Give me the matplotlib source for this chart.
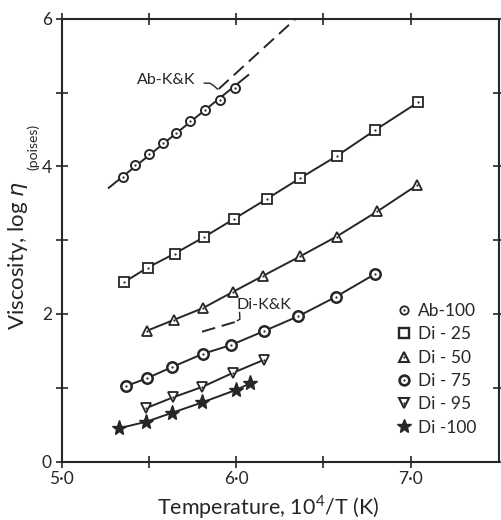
import matplotlib
matplotlib.use("Agg")
import matplotlib.pyplot as plt
from matplotlib.lines import Line2D

plt.rcParams['font.family'] = ['Lato', 'DejaVu Sans']
INK = '#262626'

# ---- data ----
ab100_x = [5.353, 5.423, 5.500, 5.580, 5.656, 5.738, 5.820, 5.909, 5.995]
ab100_y = [3.86, 4.02, 4.17, 4.32, 4.45, 4.62, 4.77, 4.90, 5.07]
ab100_line_x = [5.27, 6.07]
ab100_line_y = [3.71, 5.24]

di25_x = [5.357, 5.494, 5.649, 5.814, 5.989, 6.176, 6.366, 6.576, 6.795, 7.043]
di25_y = [2.43, 2.63, 2.82, 3.04, 3.29, 3.56, 3.84, 4.14, 4.49, 4.87]

di50_x = [5.487, 5.643, 5.810, 5.982, 6.157, 6.366, 6.576, 6.809, 7.039]
di50_y = [1.77, 1.92, 2.08, 2.30, 2.52, 2.78, 3.05, 3.39, 3.75]

di75_x = [5.367, 5.490, 5.633, 5.810, 5.972, 6.162, 6.357, 6.570, 6.795]
di75_y = [1.02, 1.13, 1.28, 1.46, 1.58, 1.77, 1.97, 2.23, 2.54]

di95_x = [5.481, 5.639, 5.805, 5.980, 6.161]
di95_y = [0.72, 0.87, 1.01, 1.20, 1.38]

di100_x = [5.329, 5.486, 5.633, 5.805, 5.999, 6.081]
di100_y = [0.45, 0.54, 0.66, 0.80, 0.97, 1.06]

abkk_x = [5.90, 6.34]
abkk_y = [5.05, 6.0]
dikk_x = [5.805, 6.014]
dikk_y = [1.76, 1.905]

legend_labels = ['Ab-100', 'Di - 25', 'Di - 50', 'Di - 75', 'Di - 95', 'Di -100']
xtick_vals = [5.0, 5.5, 6.0, 6.5, 7.0]
xtick_labels = ['5·0', '', '6·0', '', '7·0']
ytick_vals = [0, 1, 2, 3, 4, 5, 6]
ytick_labels = ['0', '', '2', '', '4', '', '6']

fig = plt.figure(figsize=(5.01, 5.20), dpi=100)
ax = fig.add_axes([0.123, 0.1125, 0.874, 0.851])

lw = 1.4
def dotted(x, y, marker, ms, mew=1.3, line=True):
    if line:
        ax.plot(x, y, '-', color=INK, lw=lw, zorder=2)
    h1, = ax.plot(x, y, linestyle='none', marker=marker, ms=ms, mfc='white',
                  mec=INK, mew=mew, zorder=3)
    h2, = ax.plot(x, y, linestyle='none', marker='o', ms=1.6, mfc=INK,
                  mec=INK, mew=0, zorder=4)
    return (h1, h2)

ax.plot(ab100_line_x, ab100_line_y, '-', color=INK, lw=lw, zorder=2)
h_ab = dotted(ab100_x, ab100_y, 'o', 6.5, mew=1.4, line=False)
h_25 = dotted(di25_x, di25_y, 's', 6.8)
h_50 = dotted(di50_x, di50_y, '^', 7.5)
h_75 = dotted(di75_x, di75_y, 'o', 7.5, mew=1.8)
h_95 = dotted(di95_x, di95_y, 'v', 7.5)
ax.plot(di100_x, di100_y, '-', color=INK, lw=lw, zorder=2)
h_100, = ax.plot(di100_x, di100_y, linestyle='none', marker='*', ms=11,
                 mfc=INK, mec=INK, zorder=3)

ax.plot(abkk_x, abkk_y, color=INK, lw=lw, dashes=(7, 3.5), zorder=2)
ax.plot(dikk_x, dikk_y, color=INK, lw=lw, dashes=(7, 3.5), zorder=2)

ax.text(5.43, 5.17, 'Ab-K&K', fontsize=11.5, color=INK, ha='left', va='center')
ax.plot([5.818, 5.85, 5.875, 5.893], [5.13, 5.13, 5.09, 5.05], color=INK, lw=1.0)
ax.text(6.0, 2.12, 'Di-K&K', fontsize=11.5, color=INK, ha='left', va='center')
ax.plot([6.02, 6.022, 6.008], [2.02, 1.93, 1.91], color=INK, lw=1.0)

# legend (markers only)
lh_ab = (Line2D([], [], ls='none', marker='o', ms=6, mfc='white', mec=INK, mew=1.3),
         Line2D([], [], ls='none', marker='o', ms=1.6, mfc=INK, mec=INK, mew=0))
lh_25 = Line2D([], [], ls='none', marker='s', ms=6.5, mfc='white', mec=INK, mew=1.7)
lh_50 = (Line2D([], [], ls='none', marker='^', ms=7, mfc='white', mec=INK, mew=1.5),
         Line2D([], [], ls='none', marker='o', ms=1.6, mfc=INK, mec=INK, mew=0))
lh_75 = (Line2D([], [], ls='none', marker='o', ms=7, mfc='white', mec=INK, mew=1.9),
         Line2D([], [], ls='none', marker='o', ms=1.6, mfc=INK, mec=INK, mew=0))
lh_95 = (Line2D([], [], ls='none', marker='v', ms=7, mfc='white', mec=INK, mew=1.5),
         Line2D([], [], ls='none', marker='o', ms=1.6, mfc=INK, mec=INK, mew=0))
lh_100 = Line2D([], [], ls='none', marker='*', ms=10, mfc=INK, mec=INK)
leg = ax.legend([lh_ab, lh_25, lh_50, lh_75, lh_95, lh_100], legend_labels,
                loc='upper left', bbox_to_anchor=(0.762, 0.358), frameon=False,
                fontsize=12.5, handlelength=1.0, handletextpad=0.3,
                labelspacing=0.42, borderpad=0, borderaxespad=0)
for t in leg.get_texts():
    t.set_color(INK)

ax.set_xlim(5.0, 7.51)
ax.set_ylim(0, 6)
ax.set_xticks(xtick_vals)
ax.set_xticklabels(xtick_labels)
ax.set_yticks(ytick_vals)
ax.set_yticklabels(ytick_labels)
ax.tick_params(direction='inout', length=8, width=1.2, colors=INK,
               labelsize=12.5, top=True, right=True, pad=3)
for s in ax.spines.values():
    s.set_linewidth(1.5)
    s.set_color(INK)

fig.text(268 / 501, 1 - 507 / 520, 'Temperature, 10$^{\\mathregular{4}}$/T (K)',
         fontsize=15.5, color=INK, ha='center', va='center')
fig.text(24 / 501, 1 - 330 / 520, 'Viscosity, log $\\eta$', fontsize=16,
         color=INK, rotation=90, rotation_mode='anchor', ha='left', va='baseline')
fig.text(37 / 501, 1 - 170 / 520, '(poises)', fontsize=10, color=INK,
         rotation=90, rotation_mode='anchor', ha='left', va='baseline')

fig.savefig('out.png', dpi=100, facecolor='white')
